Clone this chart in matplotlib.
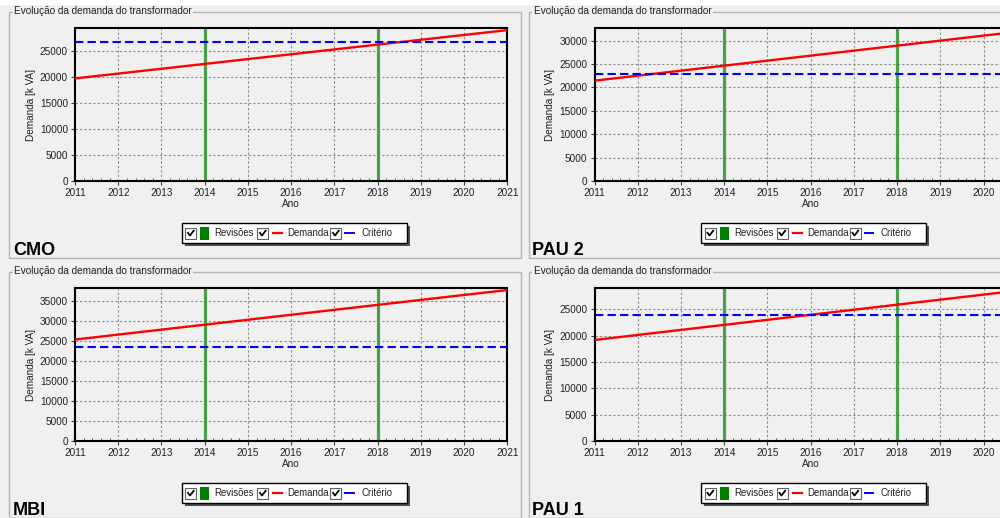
import matplotlib
matplotlib.use("Agg")
import matplotlib.pyplot as plt
from matplotlib.patches import Rectangle
from matplotlib.lines import Line2D
from matplotlib.transforms import Affine2D
from matplotlib.ticker import MultipleLocator, FixedLocator

plt.rcParams['font.family'] = ['Liberation Sans', 'DejaVu Sans']

# data
anos = list(range(2011, 2022))
revisoes = [2014, 2018]

estacoes = ['CMO', 'PAU 2', 'MBI', 'PAU 1']
cmo_demanda = [19750, 20680, 21610, 22540, 23470, 24400, 25330, 26260, 27190, 28120, 29050]
pau2_demanda = [21450, 22520, 23590, 24660, 25730, 26800, 27870, 28940, 30010, 31080, 32150]
mbi_demanda = [25300, 26535, 27770, 29005, 30240, 31475, 32710, 33945, 35180, 36415, 37650]
pau1_demanda = [19170, 20127, 21084, 22041, 22998, 23955, 24912, 25869, 26826, 27783, 28740]
criterios = [26800, 22900, 23400, 24000]
demandas = [cmo_demanda, pau2_demanda, mbi_demanda, pau1_demanda]

# axis tops for each panel (as seen in the screenshot)
y_tops = [29400, 32650, 38080, 28980]

W, H = 1000, 518
fig = plt.figure(figsize=(W / 100, H / 100), dpi=100, facecolor='#f0f0f0')
# pixel transform, origin at top left
pix = Affine2D().scale(1 / W, -1 / H).translate(0, 1) + fig.transFigure

fig.add_artist(Rectangle((0, 0), W, 5, transform=pix, fc='white', ec='none', zorder=-6))

FS = 7.2
LFS = 6.9
GRAY = '#202020'


def add_ax(l, t, r, b):
    return fig.add_axes([l / W, 1 - b / H, (r - l) / W, (b - t) / H])


def checkbox(x, y):
    fig.add_artist(Rectangle((x, y), 11, 11, transform=pix, fc='white', ec='#606060', lw=0.8, zorder=4))
    fig.add_artist(Line2D([x + 2.8, x + 4.8, x + 8.5], [y + 5.2, y + 7.8, y + 3.0],
                          transform=pix, color='black', lw=1.3, zorder=5))


def draw_legend(x0, y0):
    fig.add_artist(Rectangle((x0 + 3, y0 + 3), 225, 20.6, transform=pix, fc='#505050', ec='none', zorder=2))
    fig.add_artist(Rectangle((x0, y0), 225, 20.6, transform=pix, fc='white', ec='black', lw=1, zorder=3))
    cy = y0 + 10.3
    checkbox(x0 + 3.5, y0 + 5)
    fig.add_artist(Rectangle((x0 + 18.5, y0 + 4), 9, 13, transform=pix, fc='#008000', ec='none', zorder=4))
    fig.text(x0 + 33, cy, 'Revisões', transform=pix, fontsize=LFS, va='center', color=GRAY, zorder=5)
    checkbox(x0 + 75.5, y0 + 5)
    fig.add_artist(Line2D([x0 + 91.5, x0 + 100.5], [cy, cy], transform=pix, color='red', lw=1.6, zorder=4))
    fig.text(x0 + 106, cy, 'Demanda', transform=pix, fontsize=LFS, va='center', color=GRAY, zorder=5)
    checkbox(x0 + 148.5, y0 + 5)
    fig.add_artist(Line2D([x0 + 163.5, x0 + 168.5], [cy, cy], transform=pix, color='blue', lw=1.4, zorder=4))
    fig.add_artist(Line2D([x0 + 170.5, x0 + 172], [cy, cy], transform=pix, color='blue', lw=1.4, zorder=4))
    fig.text(x0 + 179.5, cy, 'Critério', transform=pix, fontsize=LFS, va='center', color=GRAY, zorder=5)


offsets = [(0, 0), (519.5, 0), (0, 260), (519.5, 260)]

for i, (dx, dy) in enumerate(offsets):
    # group box
    fig.add_artist(Rectangle((9 + dx, 12 + dy), 512, 246, transform=pix, fc='none',
                             ec='#b4b4b4', lw=1, zorder=-4))
    fig.text(14 + dx, 11.5 + dy, 'Evolução da demanda do transformador', transform=pix,
             fontsize=FS, va='center', color=GRAY, zorder=5,
             bbox=dict(fc='#f0f0f0', ec='none', pad=1))
    fig.text(13 + dx, 255 + dy, estacoes[i], transform=pix, fontsize=13, fontweight='bold',
             va='baseline', color='black')

    ax = add_ax(75 + dx, 28.3 + dy, 507.3 + dx, 181 + dy)
    ax.set_facecolor('#f0f0f0')
    ax.plot(anos, demandas[i], color='red', lw=1.7, zorder=3)
    ax.axhline(criterios[i], color='blue', lw=1.5, ls=(0, (4, 2)), zorder=3)
    for r in revisoes:
        ax.axvline(r, color='#3a9a3a', lw=2.3, alpha=0.9, zorder=2)
    ax.set_xlim(2011, 2021)
    ax.set_ylim(0, y_tops[i])
    if dx > 0:
        # right-hand panels are cut off by the window edge, 2021 not visible
        ax.xaxis.set_major_locator(FixedLocator(anos[:-1]))
    else:
        ax.xaxis.set_major_locator(MultipleLocator(1))
    ax.xaxis.set_minor_locator(MultipleLocator(0.2))
    ax.yaxis.set_major_locator(MultipleLocator(5000))
    ax.grid(True, which='major', axis='y', color='#8a8a8a', ls=(0, (2, 2)), lw=0.8)
    ax.grid(True, which='major', axis='x', color='#8a8a8a', ls=(0, (2, 2)), lw=0.8)
    ax.set_axisbelow(True)
    ax.tick_params(axis='both', which='major', labelsize=FS, labelcolor=GRAY, length=3,
                   direction='out', pad=2, color='#404040')
    ax.tick_params(axis='x', which='minor', length=2.5, direction='in', color='#404040')
    for s in ax.spines.values():
        s.set_linewidth(1.5)
        s.set_color('black')
    ax.set_xlabel('Ano', fontsize=FS, color=GRAY, labelpad=1)
    ax.set_ylabel('Demanda [k VA]', fontsize=FS, color=GRAY, labelpad=3)

    draw_legend(181.7 + dx, 222.7 + dy)

fig.savefig('out.png', dpi=100, facecolor=fig.get_facecolor())
